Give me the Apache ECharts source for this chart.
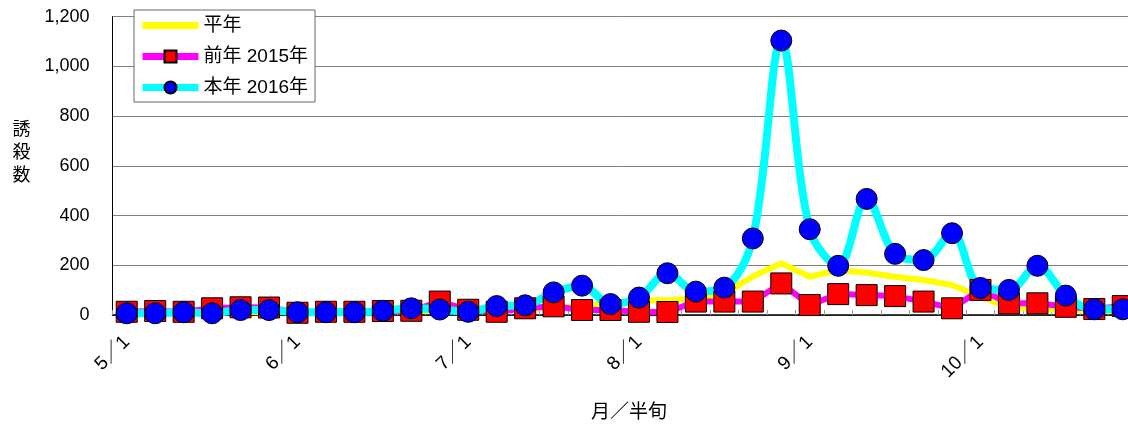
<!DOCTYPE html>
<html>
<head>
<meta charset="utf-8">
<script src="https://cdn.jsdelivr.net/npm/echarts@6/dist/echarts.min.js"></script>
<style>
html,body{margin:0;padding:0;background:#fff;}
#chart{width:1128px;height:425px;}
</style>
</head>
<body>
<div id="chart"></div>
<script>
// Categories: half-month (pentad) periods from May to October
const months = [5, 6, 7, 8, 9, 10];
const pentads = [1, 2, 3, 4, 5, 6];
const categories = [];
months.forEach(m => pentads.forEach(p => categories.push(m + '／' + p)));

const seriesNames = ['平年', '前年 2015年', '本年 2016年'];

// 平年 (normal year)
const normalYear = [10, 10, 10, 12, 12, 12, 12, 13, 14, 15, 16, 18,
                    20, 22, 25, 30, 36, 45, 58, 60, 65, 85, 155, 208,
                    154, 181, 170, 154, 141, 121, 74, 30, 25, 20, 18, 15];
// 前年 2015年
const year2015 = [13, 16, 13, 27, 31, 30, 9, 13, 13, 16, 17, 54,
                  21, 13, 27, 35, 20, 20, 13, 12, 54, 54, 54, 127,
                  40, 84, 80, 76, 54, 27, 101, 47, 47, 33, 24, 36];
// 本年 2016年
const year2016 = [7, 7, 11, 7, 20, 20, 11, 11, 11, 17, 27, 22,
                  13, 36, 39, 91, 118, 44, 70, 168, 94, 110, 308, 1104,
                  345, 198, 467, 246, 221, 329, 109, 101, 198, 78, 23, 23];

const yTicks = [0, 200, 400, 600, 800, 1000, 1200];

const FONT = "'Liberation Sans', 'Noto Sans CJK JP', sans-serif";

const chart = echarts.init(document.getElementById('chart'));
chart.setOption({
  animation: false,
  backgroundColor: '#ffffff',
  grid: { left: 112.5, top: 16.7, width: 1024.5, height: 298.3, outerBoundsMode: 'none', containLabel: false },
  legend: {
    orient: 'vertical',
    left: 134, top: 10,
    padding: [6, 7, 5, 5],
    itemWidth: 56, itemHeight: 15, itemGap: 12,
    backgroundColor: '#ffffff',
    borderColor: '#666666', borderWidth: 1,
    lineStyle: { width: 7 },
    textStyle: { fontFamily: FONT, fontSize: 19, color: '#000', lineHeight: 19 },
    data: [
      { name: seriesNames[0], itemStyle: { color: 'rgba(0,0,0,0)', borderWidth: 0 } },
      { name: seriesNames[1] },
      { name: seriesNames[2] }
    ]
  },
  xAxis: {
    type: 'category',
    data: categories,
    boundaryGap: true,
    axisLine: { lineStyle: { color: '#000', width: 1.5 } },
    axisTick: { show: true, interval: 0, inside: true, length: 5, lineStyle: { color: '#999' } },
    axisLabel: { interval: 5, rotate: 45, margin: 24, fontFamily: FONT, fontSize: 19, color: '#000' },
    splitLine: { show: false }
  },
  yAxis: {
    type: 'value',
    min: yTicks[0], max: yTicks[yTicks.length - 1], interval: 200,
    axisLine: { show: true, lineStyle: { color: '#000', width: 1 } },
    axisTick: { show: false },
    axisLabel: {
      margin: 23, fontFamily: FONT, fontSize: 18, color: '#000',
      formatter: v => v.toLocaleString('en-US')
    },
    splitLine: { lineStyle: { color: '#808080', width: 1 } }
  },
  graphic: [
    { type: 'text', x: 21.5, y: 151, style: { text: '誘\n殺\n数', font: "18px 'Noto Sans CJK JP', sans-serif", fill: '#000', textAlign: 'center', textVerticalAlign: 'middle', lineHeight: 23 } },
    { type: 'text', x: 629, y: 411, style: { text: '月／半旬', font: "19px 'Noto Sans CJK JP', sans-serif", fill: '#000', textAlign: 'center', textVerticalAlign: 'middle' } }
  ],
  series: [
    {
      name: seriesNames[0], type: 'line', data: normalYear,
      symbol: 'none', smooth: false,
      lineStyle: { color: '#ffff00', width: 6 },
      itemStyle: { color: '#ffff00' }
    },
    {
      name: seriesNames[1], type: 'line', data: year2015,
      symbol: 'rect', symbolSize: 21, showAllSymbol: true, smooth: false,
      lineStyle: { color: '#ff00ff', width: 6 },
      itemStyle: { color: '#ff0000', borderColor: '#000', borderWidth: 1 }
    },
    {
      name: seriesNames[2], type: 'line', data: year2016,
      symbol: 'circle', symbolSize: 21, showAllSymbol: true, smooth: 0.35,
      lineStyle: { color: '#00ffff', width: 8 },
      itemStyle: { color: '#0000ff', borderColor: '#000', borderWidth: 1 }
    }
  ]
});
</script>
</body>
</html>
